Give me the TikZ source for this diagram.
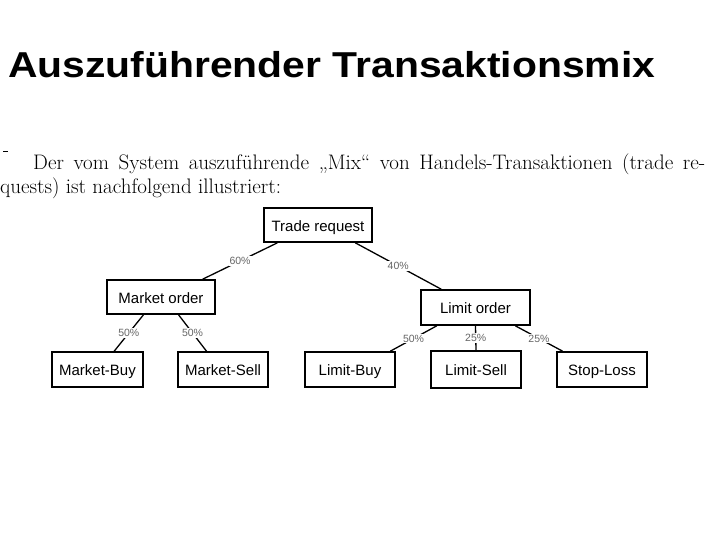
\documentclass[tikz,border=0pt]{standalone}
\usepackage{fontspec}
\newfontfamily\boxfont{Liberation Sans}
\usetikzlibrary{calc}
\tikzset{
  box/.style={draw, line width=1.6pt, inner sep=0pt, font=\boxfont\fontsize{15}{18}\selectfont, text height=12pt, text depth=0pt, minimum height=35pt},
  conn/.style={line width=1.3pt},
  pct/.style={fill=white, inner sep=1pt, font=\boxfont\fontsize{10.5}{12}\selectfont, text=black!60}
}
\begin{document}
\begin{tikzpicture}[x=1pt,y=-1pt]
\useasboundingbox (0,0) rectangle (720,540);
\node[anchor=base west, inner sep=0pt, font=\boxfont\bfseries\fontsize{36}{40}\selectfont] (title) at (8,78) {\scalebox{1.135}[1]{Auszuführender Transaktionsmix}};
\coordinate (d1) at (3,151); \coordinate (d2) at (8,151);
\draw[line width=0.8pt] (d1) -- (d2);
\node[anchor=base west, inner sep=0pt, font=\fontsize{21}{24}\selectfont] (l1) at (33,170) {\makebox[672pt][s]{Der vom System auszuführende „Mix“ von Handels-Transaktionen (trade re-}};
\node[anchor=base west, inner sep=0pt, font=\fontsize{21}{24}\selectfont] (l2) at (0,194) {quests) ist nachfolgend illustriert:};

\node[box, minimum width=108pt, minimum height=34pt] (tr) at (318,225) {Trade request};
\node[box, minimum width=108pt, minimum height=34pt] (mo) at (161,297) {Market order};
\node[box, minimum width=109pt] (lo) at (475.5,307.5) {Limit order};
\node[box, minimum width=91pt] (mb) at (97.5,369.5) {Market-Buy};
\node[box, minimum width=90pt] (ms) at (223,369.5) {Market-Sell};
\node[box, minimum width=90pt] (lb) at (350,369.5) {Limit-Buy};
\node[box, minimum width=90pt, minimum height=37pt] (ls) at (476,369.5) {Limit-Sell};
\node[box, minimum width=90pt] (sl) at (602,369.5) {Stop-Loss};

\draw[conn] ($(tr.south west)!0.13!(tr.south east)$) -- node[pct]{60\%} ($(mo.north west)!0.88!(mo.north east)$);
\draw[conn] ($(tr.south west)!0.84!(tr.south east)$) -- node[pct]{40\%} ($(lo.north west)!0.19!(lo.north east)$);
\draw[conn] ($(mo.south west)!0.34!(mo.south east)$) -- node[pct]{50\%} ($(mb.north west)!0.68!(mb.north east)$);
\draw[conn] ($(mo.south west)!0.66!(mo.south east)$) -- node[pct]{50\%} ($(ms.north west)!0.32!(ms.north east)$);
\draw[conn] ($(lo.south west)!0.15!(lo.south east)$) -- node[pct]{50\%} ($(lb.north west)!0.94!(lb.north east)$);
\draw[conn] (lo.south) -- node[pct]{25\%} (ls.north);
\draw[conn] ($(lo.south west)!0.86!(lo.south east)$) -- node[pct]{25\%} ($(sl.north west)!0.07!(sl.north east)$);
\end{tikzpicture}
\end{document}
